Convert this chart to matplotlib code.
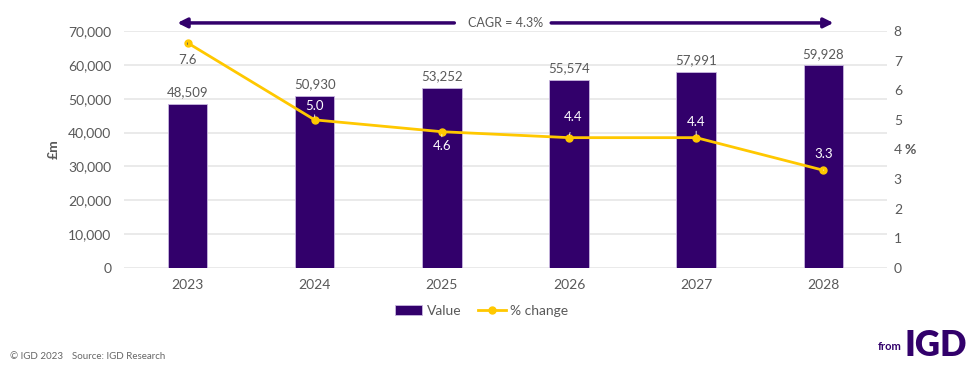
import matplotlib
matplotlib.use("Agg")
import matplotlib.pyplot as plt

plt.rcParams['font.family'] = ['Lato', 'DejaVu Sans']

years = ["2023", "2024", "2025", "2026", "2027", "2028"]
values = [48509, 50930, 53252, 55574, 57991, 59928]
pct_change = [7.6, 5.0, 4.6, 4.4, 4.4, 3.3]
cagr_text = "CAGR = 4.3%"

BAR = "#32006b"
LINE = "#ffc800"
TXT = "#595959"
GRID = "#e6e6e6"

fig = plt.figure(figsize=(9.8, 3.68), dpi=100)
ax = fig.add_axes([0.1265, 0.2717, 0.7785, 0.6441])
ax2 = ax.twinx()

x = list(range(len(years)))
bars = ax.bar(x, values, width=0.31, color=BAR, edgecolor="#c9b8e0", linewidth=0.6, zorder=2, label="Value")
ax.set_xlim(-0.5, len(years) - 0.5)
ax.set_ylim(0, 70000)
ax.set_yticks(range(0, 70001, 10000))
ax.set_yticklabels([f"{v:,}" for v in range(0, 70001, 10000)])
ax.set_xticks(x)
ax.set_xticklabels(years)
ax.grid(axis="y", color=GRID, linewidth=1.2, zorder=0)
ax.set_axisbelow(True)
for s in ax.spines.values():
    s.set_visible(False)
for s in ax2.spines.values():
    s.set_visible(False)
ax.tick_params(axis="x", length=0, labelsize=10, colors=TXT, pad=8)
ax.tick_params(axis="y", length=0, labelsize=10, colors=TXT, pad=9)
ax.set_ylabel("£m", fontsize=10, fontweight="bold", color=TXT, labelpad=6)

for xi, v in zip(x, values):
    ax.text(xi, v + 1600, f"{v:,}", ha="center", va="bottom", fontsize=9.5, color=TXT)

line, = ax2.plot(x, pct_change, color=LINE, linewidth=2, marker="o", markersize=5, zorder=3, label="% change")
ax2.set_ylim(0, 8)
ax2.set_yticks(range(0, 9))
ax2.tick_params(axis="y", length=0, labelsize=10, colors=TXT, pad=5)
ax2.set_ylabel("%", rotation=0, fontsize=10, fontweight="bold", color=TXT, ha="left", va="center")
ax2.yaxis.set_label_coords(1.0235, 0.5)

# label offsets (points) for the % change labels
offsets = [(0, -12.5), (0, 10), (0, -10), (3, 15), (0, 11), (0, 11.5)]
for i, (xi, p) in enumerate(zip(x, pct_change)):
    col = TXT if i == 0 else "white"
    ax2.annotate(f"{p:.1f}", xy=(xi, p), xytext=offsets[i], textcoords="offset points",
                 ha="center", va="center", fontsize=9.5, color=col,
                 arrowprops=dict(arrowstyle="-", color=col, lw=0.6, shrinkA=5, shrinkB=2))

# CAGR arrow
ax.annotate("", xy=(-0.08, 1.034), xytext=(0.433, 1.034), xycoords=("data", "axes fraction"),
            textcoords=("axes fraction", "axes fraction"),
            arrowprops=dict(arrowstyle="-|>", color=BAR, lw=2.5, mutation_scale=14, shrinkA=0, shrinkB=0))
ax.annotate("", xy=(5.08, 1.034), xytext=(0.56, 1.034), xycoords=("data", "axes fraction"),
            textcoords=("axes fraction", "axes fraction"),
            arrowprops=dict(arrowstyle="-|>", color=BAR, lw=2.5, mutation_scale=14, shrinkA=0, shrinkB=0))
ax.text(2.5, 1.034, cagr_text, transform=ax.get_xaxis_transform(), ha="center", va="center",
        fontsize=9, color=TXT)

handles = [bars, line]
fig.legend(handles, ["Value", "% change"], loc="center", bbox_to_anchor=(0.491, 0.155), ncol=2,
           frameon=False, fontsize=10, labelcolor=TXT, handlelength=2.0, handletextpad=0.3,
           columnspacing=1.2)

fig.text(0.01, 0.032, "© IGD 2023", fontsize=7, color="#666666", va="center")
fig.text(0.073, 0.032, "Source: IGD Research", fontsize=7, color="#666666", va="center")
fig.text(0.896, 0.058, "from", fontsize=8, fontweight="bold", color=BAR, va="center")
fig.text(0.923, 0.062, "IGD", fontsize=25, fontweight="heavy", color=BAR, va="center")

fig.savefig("out.png", dpi=100)
